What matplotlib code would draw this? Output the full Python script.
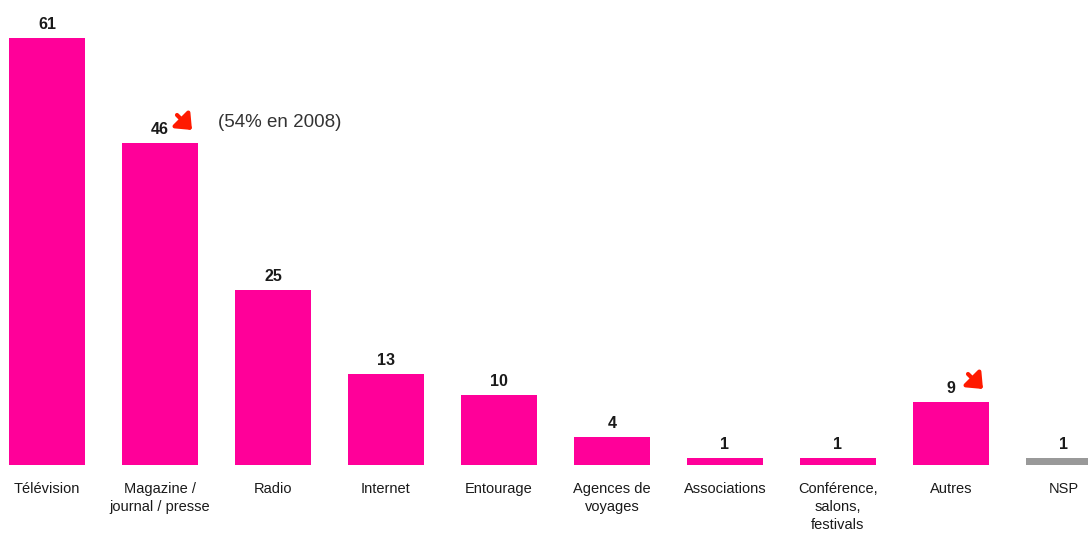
#!/usr/bin/env python3
"""
Bar chart: sources d'information (en %).
"""

import matplotlib
matplotlib.use('Agg')
import matplotlib.pyplot as plt
from matplotlib.transforms import offset_copy

plt.rcParams['font.family'] = ['Liberation Sans', 'DejaVu Sans']

categories = ["Télévision", "Magazine /\njournal / presse", "Radio", "Internet",
              "Entourage", "Agences de\nvoyages", "Associations",
              "Conférence,\nsalons,\nfestivals", "Autres", "NSP"]
values = [61, 46, 25, 13, 10, 4, 1, 1, 9, 1]
bar_colors = ["#ff0099"] * 9 + ["#999999"]
down_arrows = [1, 8]  # bars flagged with a red decrease arrow
note_2008 = "(54% en 2008)"

W, H, DPI = 1088, 534, 100
fig = plt.figure(figsize=(W / DPI, H / DPI), dpi=DPI)
ax = fig.add_axes([0, 69 / H, 1, 1 - 69 / H])

x = list(range(len(categories)))
bars = ax.bar(x, values, width=0.664, color=bar_colors)

ax.set_xlim(-47 / 113, (W - 47) / 113)
ax.set_ylim(0, 465 / 7.0)

for rect, v in zip(bars, values):
    ax.annotate(str(v), (rect.get_x() + rect.get_width() / 2, v),
                xytext=(0, 4), textcoords="offset points",
                ha="center", va="bottom", fontsize=11.5, fontweight="bold",
                color="#1a1a1a")

# red diagonal arrows, placed relative to the bar top (in pixels)
head_tr = offset_copy(ax.transData, fig, x=32, y=13, units="dots")
tail_tr = offset_copy(ax.transData, fig, x=17, y=28, units="dots")
for i in down_arrows:
    ax.annotate("", xy=(i, values[i]), xycoords=head_tr,
                xytext=(i, values[i]), textcoords=tail_tr,
                arrowprops=dict(arrowstyle="-|>,head_length=0.6,head_width=0.5",
                                mutation_scale=14, color="#ff1a00", lw=3,
                                shrinkA=0, shrinkB=0))

ax.annotate(note_2008, (1, values[1]), xytext=(42, 15), textcoords="offset points",
            ha="left", va="center", fontsize=13.5, color="#333333")

ax.set_xticks(x)
ax.set_xticklabels(categories, fontsize=10.5, color="#1a1a1a", linespacing=1.4,
                   va="top")
ax.tick_params(axis="x", length=0, pad=12)
ax.set_yticks([])
for s in ax.spines.values():
    s.set_visible(False)

fig.savefig("out.png", dpi=DPI)
